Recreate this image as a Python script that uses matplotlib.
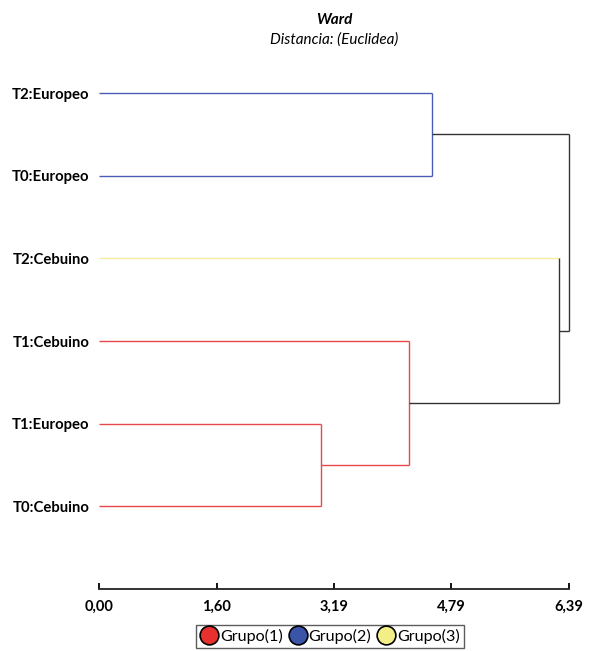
"""
Ward dendrogram (Euclidean distance) drawn by hand from a merge table
"""

import matplotlib
matplotlib.use("Agg")
import matplotlib.pyplot as plt
from matplotlib.lines import Line2D

# Leaves, top to bottom, and the group each one belongs to
LEAVES = ["T2:Europeo", "T0:Europeo", "T2:Cebuino", "T1:Cebuino", "T1:Europeo", "T0:Cebuino"]
GROUPS = [2, 2, 3, 1, 1, 1]

# Merge table: (child a, child b, height). Leaves are 0..5, new nodes get 6, 7, ...
MERGE_A = [4, 3, 0, 2, 8]
MERGE_B = [5, 6, 1, 7, 9]
MERGE_H = [3.02, 4.21, 4.53, 6.25, 6.39]

X_TICKS = [0.00, 1.60, 3.19, 4.79, 6.39]
X_TICK_LABELS = ["0,00", "1,60", "3,19", "4,79", "6,39"]

GROUP_NAMES = ["Grupo(1)", "Grupo(2)", "Grupo(3)"]
GROUP_FILL = {1: "#e8302e", 2: "#3a55a8", 3: "#f2ef86"}
GROUP_LINE = {1: "#e8484a", 2: "#4a5cb4", 3: "#f3ef9e"}
JOIN_LINE = "#333333"

FONT = ["Lato", "DejaVu Sans"]


def build_nodes():
    n = len(LEAVES)
    ys = [float(n - i) for i in range(n)]
    xs = [0.0] * n
    grp = list(GROUPS)
    for a, b, h in zip(MERGE_A, MERGE_B, MERGE_H):
        ys.append((ys[a] + ys[b]) / 2)
        xs.append(h)
        grp.append(grp[a] if grp[a] == grp[b] else None)
    return xs, ys, grp


def main():
    plt.rcParams["font.family"] = FONT
    fig = plt.figure(figsize=(5.94, 6.51), dpi=100)
    ax = fig.add_axes([99 / 594, 1 - 589 / 651, 470 / 594, (589 - 51.7) / 651])

    xs, ys, grp = build_nodes()
    n = len(LEAVES)
    lw = 1.0

    for k, (a, b, h) in enumerate(zip(MERGE_A, MERGE_B, MERGE_H)):
        node = n + k
        node_col = GROUP_LINE[grp[node]] if grp[node] else JOIN_LINE
        for c in (a, b):
            if c < n:
                col = GROUP_LINE[grp[c]]
            else:
                col = node_col
            ax.plot([xs[c], h], [ys[c], ys[c]], color=col, lw=lw,
                    solid_capstyle="butt", clip_on=False)
        ax.plot([h, h], [ys[a], ys[b]], color=node_col, lw=lw,
                solid_capstyle="butt", clip_on=False)

    ax.set_xlim(0, X_TICKS[-1])
    ax.set_ylim(0, n + 0.5)

    for s in ("top", "right", "left"):
        ax.spines[s].set_visible(False)
    ax.spines["bottom"].set_linewidth(1.3)
    ax.spines["bottom"].set_color("#222222")

    ax.set_xticks(X_TICKS)
    ax.set_xticklabels(X_TICK_LABELS, fontsize=10.5, fontweight="bold")
    ax.tick_params(axis="x", direction="in", length=4, width=1.3, pad=8)

    ax.set_yticks([float(n - i) for i in range(n)])
    ax.set_yticklabels(LEAVES, fontsize=10.7, fontweight="bold")
    ax.tick_params(axis="y", length=0, pad=7)

    fig.text(334 / 594, 1 - 20 / 651, "Ward", ha="center", va="center",
             fontsize=11, fontweight="bold", fontstyle="italic")
    fig.text(334 / 594, 1 - 40 / 651, "Distancia: (Euclidea)", ha="center", va="center",
             fontsize=11, fontstyle="italic")

    handles = [Line2D([], [], marker="o", linestyle="none", markersize=13.5,
                      markerfacecolor=GROUP_FILL[g], markeredgecolor="black",
                      markeredgewidth=1.2) for g in (1, 2, 3)]
    leg = fig.legend(handles, GROUP_NAMES, loc="upper center", ncol=3,
                     bbox_to_anchor=(330 / 594, 1 - 625 / 651), frameon=True,
                     fancybox=False, fontsize=11.6, handletextpad=0.1,
                     columnspacing=0.4, borderpad=0.25, handlelength=1.1,
                     borderaxespad=0)
    leg.get_frame().set_edgecolor("#333333")
    leg.get_frame().set_linewidth(1.0)

    fig.savefig("out.png", dpi=100)


if __name__ == "__main__":
    main()
